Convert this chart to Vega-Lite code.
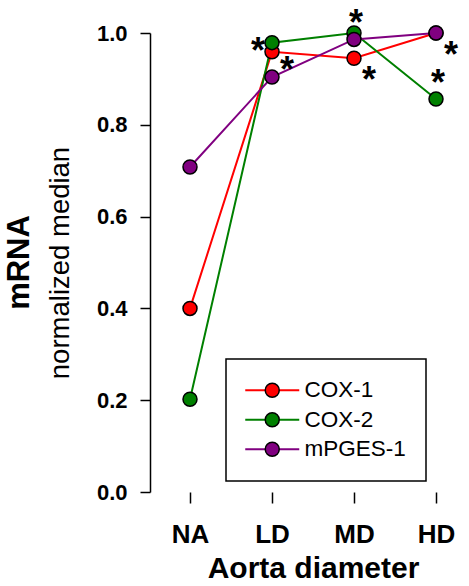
{
  "$schema": "https://vega.github.io/schema/vega-lite/v6.json",
  "autosize": {"type": "none"},
  "padding": {"left": 139, "top": 33, "right": 0, "bottom": 94},
  "width": 330,
  "height": 459,
  "background": "white",
  "title": {"text": "mRNA", "orient": "left", "anchor": "middle", "font": "Liberation Sans", "fontSize": 31, "fontWeight": "bold", "color": "black", "offset": 10},
  "datasets": {
    "main": [
      {"diameter": "NA", "gene": "COX-1", "value": 0.40},
      {"diameter": "LD", "gene": "COX-1", "value": 0.959},
      {"diameter": "MD", "gene": "COX-1", "value": 0.945},
      {"diameter": "HD", "gene": "COX-1", "value": 1.0},
      {"diameter": "NA", "gene": "COX-2", "value": 0.202},
      {"diameter": "LD", "gene": "COX-2", "value": 0.979},
      {"diameter": "MD", "gene": "COX-2", "value": 1.0},
      {"diameter": "HD", "gene": "COX-2", "value": 0.856},
      {"diameter": "NA", "gene": "mPGES-1", "value": 0.708},
      {"diameter": "LD", "gene": "mPGES-1", "value": 0.904},
      {"diameter": "MD", "gene": "mPGES-1", "value": 0.986},
      {"diameter": "HD", "gene": "mPGES-1", "value": 1.0}
    ],
    "stars": [
      {"diameter": "LD", "pos": "left", "y": 0.978, "sig": "*"},
      {"diameter": "LD", "pos": "right", "y": 0.937, "sig": "*"},
      {"diameter": "MD", "pos": "above", "y": 1.039, "sig": "*"},
      {"diameter": "MD", "pos": "right", "y": 0.916, "sig": "*"},
      {"diameter": "HD", "pos": "right", "y": 0.970, "sig": "*"},
      {"diameter": "HD", "pos": "above", "y": 0.908, "sig": "*"}
    ]
  },
  "encoding": {
    "x": {
      "field": "diameter", "type": "nominal",
      "scale": {"type": "point", "domain": ["NA", "LD", "MD", "HD"], "range": [51, 297], "padding": 0},
      "axis": {
        "domain": false, "grid": false, "tickSize": 11, "tickWidth": 1.5, "tickColor": "black",
        "labelFont": "Liberation Sans", "labelFontSize": 26, "labelFontWeight": "bold", "labelColor": "black",
        "labelPadding": 18, "labelAngle": 0,
        "title": "Aorta diameter", "titleFont": "Liberation Sans", "titleFontSize": 30, "titleFontWeight": "bold",
        "titleColor": "black", "titlePadding": 6
      }
    }
  },
  "layer": [
    {
      "mark": {"type": "rule", "color": "black", "strokeWidth": 1.5},
      "encoding": {"x": null, "y": {"datum": 0, "type": "quantitative", "scale": {"domain": [0, 1], "nice": false}}}
    },
    {
      "data": {"name": "main"},
      "mark": {"type": "line", "strokeWidth": 2},
      "encoding": {
        "y": {
          "field": "value", "type": "quantitative",
          "scale": {"domain": [0, 1], "nice": false},
          "axis": {
            "offset": -11, "values": [0, 0.2, 0.4, 0.6, 0.8, 1.0], "format": ".1f", "grid": false,
            "domainColor": "black", "domainWidth": 1.5, "tickSize": 10, "tickWidth": 1.5, "tickColor": "black",
            "labelFont": "Liberation Sans", "labelFontSize": 22, "labelFontWeight": "bold", "labelColor": "black",
            "labelPadding": 13,
            "title": "normalized median", "titleFont": "Liberation Sans", "titleFontSize": 27.5, "titleFontWeight": "normal",
            "titleColor": "black", "titlePadding": 22
          }
        },
        "color": {
          "field": "gene", "type": "nominal",
          "scale": {"range": ["#ff0000", "#008000", "#800080"]},
          "legend": {
            "orient": "none", "legendX": 87, "legendY": 326, "title": null,
            "symbolType": "M-3.857,0L-1,0M1,0L3.857,0", "symbolSize": 196, "symbolStrokeWidth": 2,
            "symbolOffset": 15,
            "labelFont": "Liberation Sans", "labelFontSize": 22.5, "labelColor": "black", "labelOffset": 21,
            "padding": 20, "rowPadding": 6.5, "strokeColor": "black"
          }
        }
      }
    },
    {
      "data": {"name": "main"},
      "mark": {"type": "point", "filled": true, "opacity": 1, "size": 196, "stroke": "black", "strokeWidth": 1.5},
      "encoding": {
        "y": {"field": "value", "type": "quantitative"},
        "fill": {
          "field": "gene", "type": "nominal",
          "scale": {"domain": ["COX-1", "COX-2", "mPGES-1"], "range": ["#ff0000", "#008000", "#800080"]},
          "legend": {
            "orient": "none", "legendX": 87, "legendY": 326, "title": null,
            "symbolType": "circle", "symbolSize": 196,
            "symbolStrokeColor": "black", "symbolStrokeWidth": 1.5, "symbolOffset": 15,
            "labelFont": "Liberation Sans", "labelFontSize": 22.5, "labelOpacity": 0, "labelOffset": 21,
            "padding": 20, "rowPadding": 6.5
          }
        }
      }
    },
    {
      "data": {"name": "stars"},
      "transform": [{"filter": "datum.pos === 'left'"}],
      "mark": {"type": "text", "font": "Liberation Sans", "fontSize": 36, "fontWeight": "bold", "baseline": "alphabetic", "dy": 20, "dx": -14, "color": "black"},
      "encoding": {"y": {"field": "y", "type": "quantitative"}, "text": {"field": "sig"}}
    },
    {
      "data": {"name": "stars"},
      "transform": [{"filter": "datum.pos === 'right'"}],
      "mark": {"type": "text", "font": "Liberation Sans", "fontSize": 36, "fontWeight": "bold", "baseline": "alphabetic", "dy": 20, "dx": 15, "color": "black"},
      "encoding": {"y": {"field": "y", "type": "quantitative"}, "text": {"field": "sig"}}
    },
    {
      "data": {"name": "stars"},
      "transform": [{"filter": "datum.pos === 'above'"}],
      "mark": {"type": "text", "font": "Liberation Sans", "fontSize": 36, "fontWeight": "bold", "baseline": "alphabetic", "dy": 20, "dx": 2, "color": "black"},
      "encoding": {"y": {"field": "y", "type": "quantitative"}, "text": {"field": "sig"}}
    }
  ],
  "config": {
    "view": {"stroke": null},
    "legend": {"strokeWidth": 1.5}
  }
}
